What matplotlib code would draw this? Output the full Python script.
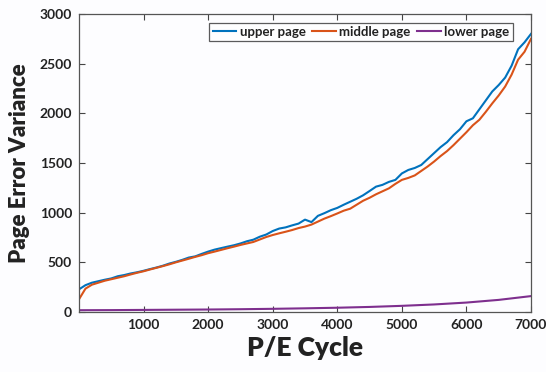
import matplotlib
matplotlib.use("Agg")
import matplotlib.pyplot as plt

plt.rcParams['font.family'] = ['Lato', 'DejaVu Sans']

cycles = list(range(0, 7001, 100))
upper_page = [228, 270, 295, 310, 325, 338, 360, 372, 388, 400,
              415, 432, 448, 466, 488, 505, 525, 548, 560, 585,
              608, 628, 643, 658, 672, 690, 712, 728, 758, 780,
              815, 840, 852, 872, 890, 930, 905, 968, 995, 1025,
              1048, 1080, 1110, 1140, 1175, 1218, 1262, 1280, 1310, 1330,
              1395, 1430, 1450, 1480, 1540, 1600, 1660, 1710, 1780, 1840,
              1920, 1950, 2040, 2130, 2220, 2285, 2360, 2480, 2645, 2715,
              2800]
middle_page = [128, 235, 275, 295, 315, 330, 345, 360, 378, 395,
               410, 428, 445, 462, 480, 500, 518, 536, 555, 572,
               592, 608, 625, 642, 658, 675, 690, 705, 730, 755,
               775, 792, 808, 825, 845, 860, 880, 910, 940, 965,
               992, 1020, 1040, 1080, 1120, 1150, 1185, 1215, 1245, 1290,
               1330, 1350, 1375, 1420, 1465, 1515, 1570, 1620, 1680, 1745,
               1810, 1880, 1935, 2015, 2100, 2180, 2270, 2390, 2540, 2620,
               2750]
lower_cycles = list(range(0, 7001, 500))
lower_page = [18, 19, 21, 23, 25, 28, 32, 37, 43, 51, 62, 76, 95, 122, 160]

series_names = ['upper page', 'middle page', 'lower page']
colors = ['#0072BD', '#D95319', '#7E2F8E']

x_ticks = [1000, 2000, 3000, 4000, 5000, 6000, 7000]
y_ticks = [0, 500, 1000, 1500, 2000, 2500, 3000]

fig = plt.figure(figsize=(5.46, 3.72), dpi=100)
fig.patch.set_facecolor('#FDFDFF')
ax = fig.add_axes([79/546, 1-312/372, (531-79)/546, (312-14)/372])
ax.set_facecolor('#FDFDFF')

ax.plot(cycles, upper_page, color=colors[0], lw=1.5, label=series_names[0])
ax.plot(cycles, middle_page, color=colors[1], lw=1.5, label=series_names[1])
ax.plot(lower_cycles, lower_page, color=colors[2], lw=1.5, label=series_names[2])

ax.set_xlim(0, 7000)
ax.set_ylim(0, 3000)
ax.set_xticks(x_ticks)
ax.set_yticks(y_ticks)
ax.tick_params(direction='in', top=True, right=True, length=4, width=0.8,
               colors='#444444', labelcolor='#222222', labelsize=10, pad=5)
for lab in ax.get_xticklabels() + ax.get_yticklabels():
    lab.set_fontweight('bold')
for s in ax.spines.values():
    s.set_color('#555555')
    s.set_linewidth(0.9)

ax.set_xlabel('P/E Cycle', fontsize=19, fontweight='heavy', color='#222222', labelpad=4)
ax.set_ylabel('Page Error Variance', fontsize=16, fontweight='heavy', color='#222222', labelpad=7)

leg = ax.legend(ncol=3, loc='upper right', bbox_to_anchor=(0.965, 0.98),
                prop={'weight': 'bold', 'size': 9.5}, frameon=True, fancybox=False,
                handlelength=1.8, handletextpad=0.25, columnspacing=0.5,
                borderpad=0.25, borderaxespad=0.2)
leg.get_frame().set_edgecolor('#333333')
leg.get_frame().set_linewidth(0.9)
for t in leg.get_texts():
    t.set_color('#222222')

fig.savefig('out.png', dpi=100, facecolor=fig.get_facecolor())
